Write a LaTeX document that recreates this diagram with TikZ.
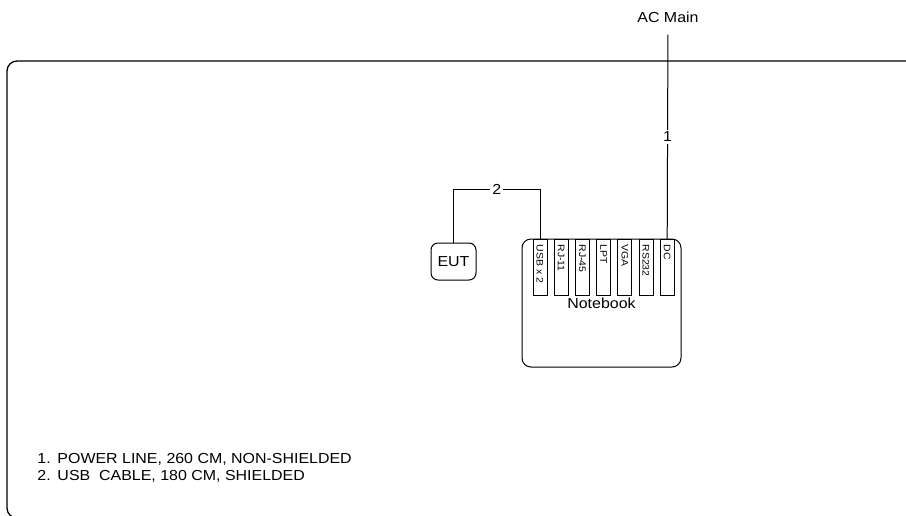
\documentclass[tikz,border=0pt]{standalone}
\usepackage{fontspec}
\setmainfont[FakeStretch=1.1]{Liberation Sans}
\usepackage{tikz}
\usetikzlibrary{positioning}

\begin{document}
\begin{tikzpicture}[x=1pt, y=-1pt, line width=1pt,
    every node/.style={font=\fontsize{14.5}{17}\selectfont},
    unit/.style={draw, rounded corners=7pt, inner sep=0pt},
    portbox/.style={draw, fill=white, rotate=-90, anchor=west, minimum height=14pt,
        text width=46pt, align=left, inner xsep=5pt, inner ysep=1pt, font=\fontsize{9.5}{10}\selectfont},
    cablelabel/.style={fill=white, inner sep=2pt}]
    \useasboundingbox (0,0) rectangle (906,515);
    \draw[line width=1.3pt, rounded corners=10pt] (7,61) rectangle (940,518);
    \node[minimum height=34pt] (ac) at (668,17) {AC Main};
    \node[unit, minimum width=45pt, minimum height=37pt] (eut) at (453.5,261.5) {EUT};
    \node[unit, rounded corners=9pt, minimum width=159pt, minimum height=128pt] (nb) at (601.5,303) {Notebook};
    \foreach \name/\txt [count=\i from 0] in {usb/USB x 2, rj11/RJ-11, rj45/RJ-45, lpt/LPT, vga/VGA, rs232/RS232, dc/DC}
        \node[portbox] (\name) at (540+21.2*\i,239) {\txt};
    \coordinate (bend) at (usb.west |- 0,189);
    \draw (ac) -- node[cablelabel] {1} (dc.west);
    \draw (eut.north) |- node[cablelabel, pos=0.75] {2} (bend) -- (usb.west);
    \node[anchor=north west, align=left, inner sep=0pt] (legend) at (37,453)
        {\makebox[20pt][l]{1.}POWER LINE, 260 CM, NON-SHIELDED\\
         \makebox[20pt][l]{2.}USB\ \ CABLE, 180 CM, SHIELDED};
\end{tikzpicture}
\end{document}
